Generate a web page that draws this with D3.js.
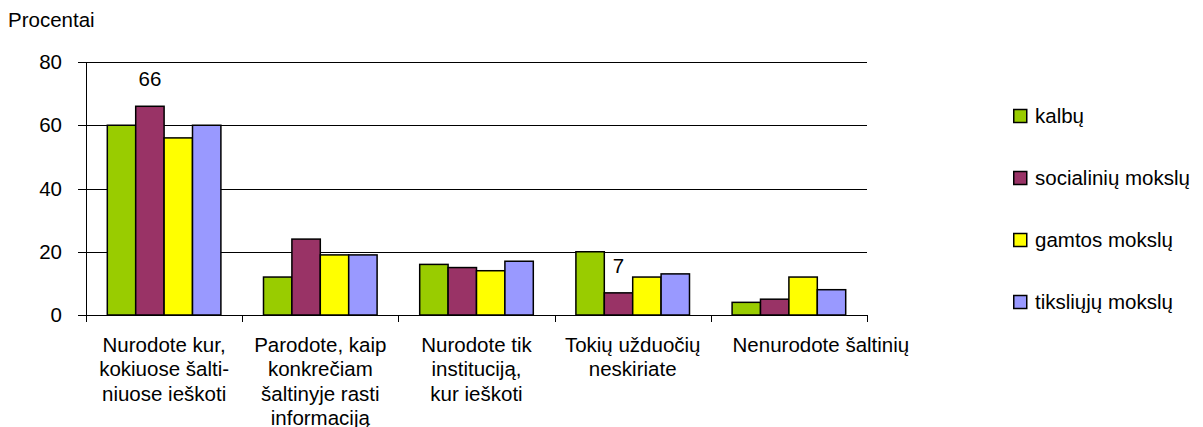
<!DOCTYPE html>
<html>
<head>
<meta charset="utf-8">
<script src="https://cdn.jsdelivr.net/npm/d3@7"></script>
<style>
  body { margin: 0; background: #fff; }
  text { font-family: "Liberation Sans", Arial, sans-serif; fill: #000; }
</style>
</head>
<body>
<div id="chart"></div>
<script>
// chart data
const categories = [
  ["Nurodote kur,", "kokiuose šalti-", "niuose ieškoti"],
  ["Parodote, kaip", "konkrečiam", "šaltinyje rasti", "informaciją"],
  ["Nurodote tik", "instituciją,", "kur ieškoti"],
  ["Tokių užduočių", "neskiriate"],
  ["Nenurodote šaltinių"]
];
const seriesNames = ["kalbų", "socialinių mokslų", "gamtos mokslų", "tiksliųjų mokslų"];
const seriesColors = ["#99cc00", "#993366", "#ffff00", "#9999ff"];
const kalbu = [60, 12, 16, 20, 4];
const socialiniu = [66, 24, 15, 7, 5];
const gamtos = [56, 19, 14, 12, 12];
const tiksliuju = [60, 19, 17, 13, 8];
const yTicks = [0, 20, 40, 60, 80];
// [series, category] pairs that get a value label
const shownLabels = [[1, 0], [1, 3]];

const values = [kalbu, socialiniu, gamtos, tiksliuju];
const catIdx = categories.map((c, i) => i);

const W = 1203, H = 427;
const fs = 20.5;
// last category label is pushed right so it does not run into its neighbour
const labelShift = [0, 0, 0, 0, 32];

const svg = d3.select("#chart").append("svg")
    .attr("width", W)
    .attr("height", H);

// scales
const x0 = d3.scaleBand()
    .domain(catIdx)
    .range([86, 867])
    .padding(0);

const gapHalf = x0.bandwidth() * 1.5 / 5.5 / 2;
const x1 = d3.scaleBand()
    .domain(d3.range(seriesNames.length))
    .range([gapHalf, x0.bandwidth() - gapHalf]);

const y = d3.scaleLinear()
    .domain([0, 80])
    .range([315, 62]);

// gridlines
svg.append("g")
    .selectAll("line")
    .data(yTicks.filter(t => t > 0))
    .join("line")
    .attr("x1", 86)
    .attr("x2", 867)
    .attr("y1", d => Math.round(y(d)) + 0.5)
    .attr("y2", d => Math.round(y(d)) + 0.5)
    .attr("stroke", "#000")
    .attr("stroke-width", 1);

// bars
const groups = svg.append("g")
    .selectAll("g")
    .data(catIdx)
    .join("g")
    .attr("transform", d => `translate(${x0(d)},0)`);

groups.selectAll("rect")
    .data(ci => values.map((v, si) => ({ si: si, ci: ci, v: v[ci] })))
    .join("rect")
    .attr("x", d => x1(d.si))
    .attr("width", x1.bandwidth())
    .attr("y", d => y(d.v))
    .attr("height", d => y(0) - y(d.v))
    .attr("fill", d => seriesColors[d.si])
    .attr("stroke", "#000")
    .attr("stroke-width", 1.5);

// value labels
svg.append("g")
    .selectAll("text")
    .data(shownLabels)
    .join("text")
    .attr("x", d => x0(d[1]) + x1(d[0]) + x1.bandwidth() / 2)
    .attr("y", d => y(values[d[0]][d[1]]) - 20)
    .attr("text-anchor", "middle")
    .style("font-size", fs + "px")
    .text(d => values[d[0]][d[1]]);

// y axis
const yAxis = svg.append("g");
yAxis.append("line")
    .attr("x1", 86.5).attr("x2", 86.5)
    .attr("y1", y(80)).attr("y2", y(0))
    .attr("stroke", "#000");
yAxis.selectAll("line.tick")
    .data(yTicks)
    .join("line")
    .attr("class", "tick")
    .attr("x1", 78).attr("x2", 86)
    .attr("y1", d => Math.round(y(d)) + 0.5)
    .attr("y2", d => Math.round(y(d)) + 0.5)
    .attr("stroke", "#000");
yAxis.selectAll("text")
    .data(yTicks)
    .join("text")
    .attr("x", 62)
    .attr("y", d => y(d) + 7)
    .attr("text-anchor", "end")
    .style("font-size", fs + "px")
    .text(d => d);

// x axis
const xAxis = svg.append("g");
xAxis.append("line")
    .attr("x1", 86).attr("x2", 867)
    .attr("y1", Math.round(y(0)) + 0.5).attr("y2", Math.round(y(0)) + 0.5)
    .attr("stroke", "#000");
xAxis.selectAll("line.tick")
    .data(catIdx.concat([categories.length]))
    .join("line")
    .attr("class", "tick")
    .attr("x1", d => Math.round(d < categories.length ? x0(d) : x0.range()[1]) + 0.5)
    .attr("x2", d => Math.round(d < categories.length ? x0(d) : x0.range()[1]) + 0.5)
    .attr("y1", y(0)).attr("y2", y(0) + 7)
    .attr("stroke", "#000");

xAxis.selectAll("text")
    .data(catIdx)
    .join("text")
    .attr("text-anchor", "middle")
    .style("font-size", fs + "px")
    .each(function(d) {
        d3.select(this).selectAll("tspan")
            .data(categories[d])
            .join("tspan")
            .attr("x", x0(d) + x0.bandwidth() / 2 + labelShift[d])
            .attr("y", (l, i) => 352 + i * 24.4)
            .text(l => l);
    });

// axis title
svg.append("text")
    .attr("x", 8)
    .attr("y", 27)
    .style("font-size", fs + "px")
    .text("Procentai");

// legend
const ly = d3.scalePoint()
    .domain(d3.range(seriesNames.length))
    .range([116, 302]);

const legend = svg.append("g")
    .selectAll("g")
    .data(d3.range(seriesNames.length))
    .join("g")
    .attr("transform", d => `translate(1013,${ly(d)})`);

legend.append("rect")
    .attr("x", 0.75)
    .attr("y", -6.5)
    .attr("width", 13)
    .attr("height", 13)
    .attr("fill", d => seriesColors[d])
    .attr("stroke", "#000")
    .attr("stroke-width", 1.5);

legend.append("text")
    .attr("x", 22)
    .attr("y", 7)
    .style("font-size", fs + "px")
    .text(d => seriesNames[d]);
</script>
</body>
</html>
